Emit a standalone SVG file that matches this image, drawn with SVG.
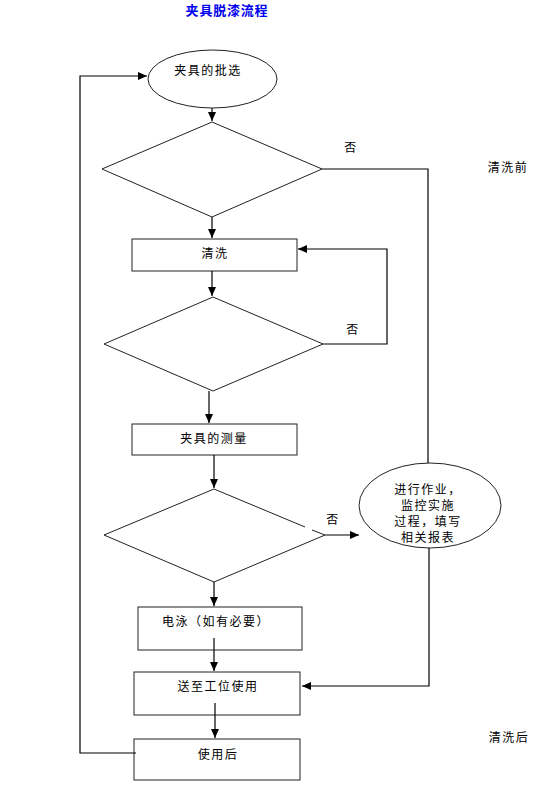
<svg xmlns="http://www.w3.org/2000/svg" width="551" height="795" viewBox="0 0 551 795">
<style>
  .shape { fill: #fff; stroke: #222; stroke-width: 1; }
  .line { fill: none; stroke: #000; stroke-width: 1.2; }
  .t { font-family: "Noto Sans CJK SC", "Noto Sans CJK JP", sans-serif; font-size: 12px; fill: #000; text-anchor: middle; letter-spacing: 1.5px; }
  .title { font-family: "Noto Sans CJK SC", "Noto Sans CJK JP", sans-serif; font-size: 13px; font-weight: bold; fill: #0000ee; text-anchor: middle; letter-spacing: 0.8px; }
</style>
<defs>
  <marker id="arr" markerUnits="userSpaceOnUse" markerWidth="10" markerHeight="8" refX="9" refY="4" orient="auto">
    <path d="M0 0 L9 4 L0 8 Z" fill="#000"/>
  </marker>
</defs>
<rect width="551" height="795" fill="#fff"/>
<text class="title" x="227" y="15">夹具脱漆流程</text>
<text class="t" x="508" y="172">清洗前</text>
<text class="t" x="509" y="742">清洗后</text>

<g id="start">
  <ellipse class="shape" cx="212.5" cy="79" rx="64.5" ry="29"/>
  <text class="t" x="208" y="75">夹具的批选</text>
</g>
<g id="decision1">
  <path class="shape" d="M212 122 L322 169 L212 217 L102 169 Z"/>
</g>
<g id="wash">
  <rect class="shape" x="132" y="239" width="165" height="32"/>
  <text class="t" x="215" y="258">清洗</text>
</g>
<g id="decision2">
  <path class="shape" d="M213 297 L323 344 L213 391 L104 344 Z"/>
</g>
<g id="measure">
  <rect class="shape" x="132" y="424" width="165" height="31"/>
  <text class="t" x="214" y="443">夹具的测量</text>
</g>
<g id="decision3">
  <path d="M104 535 L214 489 L325 535 L214 582 Z" fill="#fff" stroke="none"/>
  <path fill="none" stroke="#222" stroke-width="1" d="M312 530 L325 535 L214 582 L104 535 L214 489 L305 527"/>
</g>
<g id="operate">
  <ellipse class="shape" cx="430" cy="505.5" rx="71" ry="42.5"/>
  <text class="t" x="428" y="494">进行作业，</text>
  <text class="t" x="428" y="510">监控实施</text>
  <text class="t" x="428" y="526">过程，填写</text>
  <text class="t" x="428" y="542">相关报表</text>
</g>
<g id="electro">
  <rect class="shape" x="138" y="607" width="164" height="43"/>
  <text class="t" x="216" y="626">电泳（如有必要）</text>
</g>
<g id="deliver">
  <rect class="shape" x="134" y="672" width="166" height="43"/>
  <text class="t" x="218" y="691">送至工位使用</text>
</g>
<g id="afteruse">
  <rect class="shape" x="134" y="739" width="166" height="41"/>
  <text class="t" x="218" y="759">使用后</text>
</g>

<g id="connectors">
  <path class="line" d="M212 108 V121" marker-end="url(#arr)"/>
  <path class="line" d="M212 217 V238" marker-end="url(#arr)"/>
  <path class="line" d="M322 169 H428 V463"/>
  <path class="line" d="M212 271 V296" marker-end="url(#arr)"/>
  <path class="line" d="M323 344 H387 V249 H298" marker-end="url(#arr)"/>
  <path class="line" d="M209 391 V423" marker-end="url(#arr)"/>
  <path class="line" d="M214 455 V488" marker-end="url(#arr)"/>
  <path class="line" d="M325 535 H359" marker-end="url(#arr)"/>
  <path class="line" d="M214 582 V606" marker-end="url(#arr)"/>
  <path class="line" d="M429 548 V686 H302" marker-end="url(#arr)"/>
  <path class="line" d="M214 638 V671" marker-end="url(#arr)"/>
  <path class="line" d="M215 703 V738" marker-end="url(#arr)"/>
  <path class="line" d="M136 753 H80 V76 H147" marker-end="url(#arr)"/>
  <text class="t" x="351" y="152">否</text>
  <text class="t" x="353" y="334">否</text>
  <text class="t" x="333" y="524">否</text>
</g>
</svg>
